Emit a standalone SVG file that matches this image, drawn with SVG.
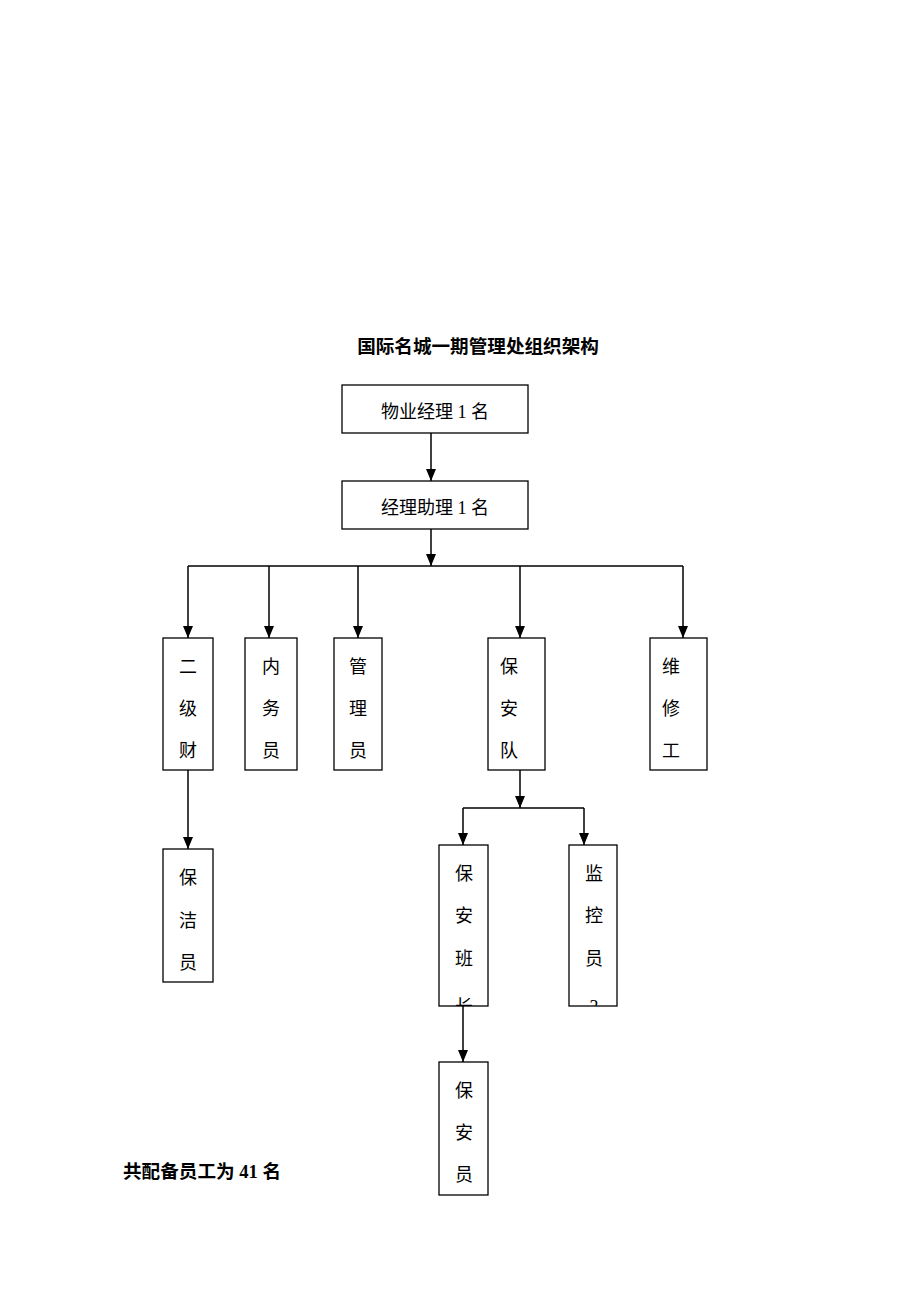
<svg xmlns="http://www.w3.org/2000/svg" width="920" height="1302" viewBox="0 0 920 1302">
<style>
.box{fill:#fff;stroke:#000;stroke-width:1.3}
.t{font-family:"Liberation Serif","Noto Sans CJK SC",serif;font-size:18px;fill:#000;text-anchor:middle}
.b{font-family:"Liberation Serif","Noto Sans CJK SC",serif;font-size:18.6px;font-weight:bold;fill:#000}
.ln{fill:none;stroke:#000;stroke-width:1.5}
</style>
<defs>
<clipPath id="c1"><rect x="439" y="845" width="49" height="161"/></clipPath>
<clipPath id="c2"><rect x="569" y="845" width="48" height="161"/></clipPath>
</defs>
<rect width="920" height="1302" fill="#fff"/>
<text class="b" x="478" y="353" text-anchor="middle">国际名城一期管理处组织架构</text>
<g id="connectors">
<line class="ln" x1="431" y1="433" x2="431" y2="481"/>
<path d="M426,469 L436,469 L431,481 Z"/>
<line class="ln" x1="431" y1="529" x2="431" y2="566"/>
<path d="M426,554 L436,554 L431,566 Z"/>
<line class="ln" x1="188" y1="566" x2="683" y2="566"/>
<line class="ln" x1="188" y1="566" x2="188" y2="638"/><path d="M183,626 L193,626 L188,638 Z"/>
<line class="ln" x1="269" y1="566" x2="269" y2="638"/><path d="M264,626 L274,626 L269,638 Z"/>
<line class="ln" x1="358" y1="566" x2="358" y2="638"/><path d="M353,626 L363,626 L358,638 Z"/>
<line class="ln" x1="520" y1="566" x2="520" y2="638"/><path d="M515,626 L525,626 L520,638 Z"/>
<line class="ln" x1="683" y1="566" x2="683" y2="638"/><path d="M678,626 L688,626 L683,638 Z"/>
<line class="ln" x1="188" y1="770" x2="188" y2="849"/><path d="M183,837 L193,837 L188,849 Z"/>
<line class="ln" x1="520" y1="770" x2="520" y2="808"/><path d="M515,796 L525,796 L520,808 Z"/>
<line class="ln" x1="463" y1="808" x2="584" y2="808"/>
<line class="ln" x1="463" y1="808" x2="463" y2="845"/><path d="M458,833 L468,833 L463,845 Z"/>
<line class="ln" x1="584" y1="808" x2="584" y2="845"/><path d="M579,833 L589,833 L584,845 Z"/>
<line class="ln" x1="463" y1="1006" x2="463" y2="1062"/><path d="M458,1050 L468,1050 L463,1062 Z"/>
</g>
<g id="n1"><rect class="box" x="342" y="385" width="186" height="48"/><text class="t" x="435" y="418">物业经理 1 名</text></g>
<g id="n2"><rect class="box" x="342" y="481" width="186" height="48"/><text class="t" x="435" y="514">经理助理 1 名</text></g>
<g id="n3"><rect class="box" x="163" y="638" width="50" height="132"/><text class="t" x="188" y="673">二</text><text class="t" x="188" y="715">级</text><text class="t" x="188" y="757">财</text></g>
<g id="n4"><rect class="box" x="245" y="638" width="52" height="132"/><text class="t" x="271" y="673">内</text><text class="t" x="271" y="715">务</text><text class="t" x="271" y="757">员</text></g>
<g id="n5"><rect class="box" x="334" y="638" width="48" height="132"/><text class="t" x="358" y="673">管</text><text class="t" x="358" y="715">理</text><text class="t" x="358" y="757">员</text></g>
<g id="n6"><rect class="box" x="488" y="638" width="57" height="132"/><text class="t" x="509" y="673">保</text><text class="t" x="509" y="715">安</text><text class="t" x="509" y="757">队</text></g>
<g id="n7"><rect class="box" x="650" y="638" width="57" height="132"/><text class="t" x="671" y="673">维</text><text class="t" x="671" y="715">修</text><text class="t" x="671" y="757">工</text></g>
<g id="n8"><rect class="box" x="163" y="849" width="50" height="133"/><text class="t" x="188" y="884">保</text><text class="t" x="188" y="927">洁</text><text class="t" x="188" y="969">员</text></g>
<g id="n9"><rect class="box" x="439" y="845" width="49" height="161"/><g clip-path="url(#c1)"><text class="t" x="464" y="880">保</text><text class="t" x="464" y="922">安</text><text class="t" x="464" y="965">班</text><text class="t" x="464" y="1013">长</text></g></g>
<g id="n10"><rect class="box" x="569" y="845" width="48" height="161"/><g clip-path="url(#c2)"><text class="t" x="594" y="880">监</text><text class="t" x="594" y="922">控</text><text class="t" x="594" y="965">员</text><text class="t" x="594" y="1013">3</text></g></g>
<g id="n11"><rect class="box" x="439" y="1062" width="49" height="133"/><text class="t" x="464" y="1097">保</text><text class="t" x="464" y="1139">安</text><text class="t" x="464" y="1181">员</text></g>
<text class="b" x="123" y="1178">共配备员工为 41 名</text>
</svg>
